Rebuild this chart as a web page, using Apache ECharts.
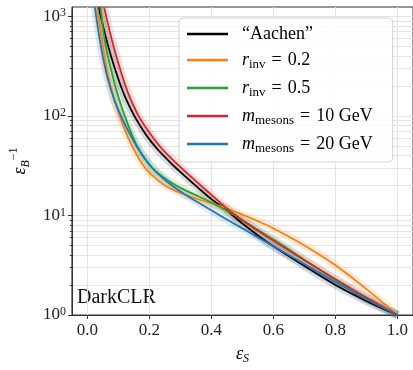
<!DOCTYPE html>
<html>
<head>
<meta charset="utf-8">
<script src="https://cdn.jsdelivr.net/npm/echarts@6/dist/echarts.min.js"></script>
<style>
  html, body { margin: 0; padding: 0; background: #fff; }
  #chart { width: 413px; height: 370px; }
</style>
</head>
<body>
<div id="chart"></div>
<script>
// signal efficiency vs inverse background efficiency
const aachenEps = [0.036, 0.055, 0.077, 0.105, 0.125, 0.153, 0.19, 0.226, 0.27, 0.311, 0.36, 0.401, 0.45, 0.5, 0.55, 0.6, 0.7, 0.8, 0.9, 1.0]
const aachenInvB = [1240, 698, 390, 210, 146.6, 97.7, 63.8, 46.2, 33.4, 25.4, 18.6, 14.5, 11.2, 8.3, 6.3, 4.9, 3.1, 2.0, 1.38, 1]

const rinv02Eps = [0.032, 0.04, 0.052, 0.065, 0.086, 0.105, 0.125, 0.145, 0.17, 0.2, 0.25, 0.305, 0.36, 0.433, 0.5, 0.56, 0.6, 0.7, 0.8, 0.9, 1.0]
const rinv02InvB = [1240, 794, 457, 269, 148, 97.7, 67.6, 49, 35.5, 26.9, 20, 16.6, 14.45, 12.3, 10.2, 8.5, 7.4, 5.0, 3.16, 1.82, 1]

const rinv05Eps = [0.042, 0.052, 0.063, 0.075, 0.088, 0.102, 0.124, 0.145, 0.167, 0.2, 0.226, 0.27, 0.305, 0.36, 0.433, 0.5, 0.55, 0.6, 0.7, 0.8, 0.9, 1.0]
const rinv05InvB = [1230, 692, 437, 302, 209, 148, 93.3, 63.1, 45.7, 32.4, 26.9, 21.4, 18.6, 15.5, 11.9, 9.0, 7.16, 5.75, 3.59, 2.26, 1.48, 1]

const m10Eps = [0.054, 0.075, 0.093, 0.122, 0.139, 0.167, 0.205, 0.242, 0.285, 0.327, 0.37, 0.411, 0.45, 0.5, 0.55, 0.6, 0.7, 0.8, 0.9, 1.0]
const m10InvB = [1230, 646, 398, 204, 148, 97.7, 64.6, 46.2, 33.9, 25.7, 19.5, 15.0, 11.7, 8.9, 7.0, 5.56, 3.55, 2.29, 1.5, 1]

const m20Eps = [0.024, 0.035, 0.048, 0.065, 0.088, 0.114, 0.135, 0.156, 0.178, 0.2, 0.22, 0.26, 0.305, 0.36, 0.433, 0.5, 0.56, 0.6, 0.7, 0.8, 0.9, 1.0]
const m20InvB = [1230, 724, 417, 240, 141, 91.2, 67.6, 51.3, 39.8, 32.4, 27.5, 21.4, 17.0, 13.3, 9.77, 7.41, 5.78, 4.9, 3.24, 2.14, 1.43, 1]

const seriesNames = ['aachen', 'rinv02', 'rinv05', 'm10', 'm20']
const seriesColors = ['#000000', '#ff7f0e', '#2ca02c', '#d62728', '#1f77b4']
const seriesEps = [aachenEps, rinv02Eps, rinv05Eps, m10Eps, m20Eps]
const seriesInvB = [aachenInvB, rinv02InvB, rinv05InvB, m10InvB, m20InvB]

const xTicks = [0, 0.2, 0.4, 0.6, 0.8, 1.0]
const yMajorTicks = [1, 10, 100, 1000]
const yMinorTicks = [1, 2, 3, 4, 5, 6, 7, 8, 9, 10, 20, 30, 40, 50, 60, 70, 80, 90,
  100, 200, 300, 400, 500, 600, 700, 800, 900, 1000]

const legendLabels = {
  aachen: '{t|\u201cAachen\u201d}',
  rinv02: '{it|r}{sub|inv}{t|\u2004=\u20040.2}',
  rinv05: '{it|r}{sub|inv}{t|\u2004=\u20040.5}',
  m10: '{it|m}{sub|mesons}{t|\u2004=\u200410 GeV}',
  m20: '{it|m}{sub|mesons}{t|\u2004=\u200420 GeV}'
}

const serif = 'Liberation Serif'
const chart = echarts.init(document.getElementById('chart'))

const zip = (xs, ys) => xs.map((x, i) => [x, ys[i]])

// pale wide line under each curve stands in for the uncertainty band
const bands = seriesNames.map((name, i) => ({
  name: name + '_band',
  type: 'line',
  data: zip(seriesEps[i], seriesInvB[i]),
  smooth: 0.3,
  symbol: 'none',
  silent: true,
  z: 1,
  lineStyle: { color: seriesColors[i], width: 8, opacity: 0.15 }
}))

const lines = seriesNames.map((name, i) => ({
  name: name,
  type: 'line',
  data: zip(seriesEps[i], seriesInvB[i]),
  smooth: 0.3,
  symbol: 'none',
  z: 3,
  color: seriesColors[i],
  lineStyle: { color: seriesColors[i], width: 1.8 }
}))

chart.setOption({
  animation: false,
  grid: {
    left: 69, top: 7, width: 344, height: 313,
    show: true, borderColor: '#333', borderWidth: 1
  },
  legend: {
    data: seriesNames,
    orient: 'vertical',
    left: 179, top: 18,
    padding: [7, 20, 7, 8],
    itemWidth: 41, itemHeight: 14, itemGap: 8,
    icon: 'path://M0,0H41V2.5H0Z',
    backgroundColor: 'rgba(255,255,255,0.85)',
    borderColor: '#d0d0d0', borderWidth: 1, borderRadius: 4,
    formatter: name => legendLabels[name],
    textStyle: {
      fontFamily: serif,
      padding: [0, 0, 0, 9],
      rich: {
        t: { fontFamily: serif, fontSize: 18, color: '#000', lineHeight: 22 },
        it: { fontFamily: serif, fontSize: 18, fontStyle: 'italic', color: '#000', lineHeight: 22 },
        sub: { fontFamily: serif, fontSize: 13, color: '#000', verticalAlign: 'bottom', lineHeight: 13 }
      }
    }
  },
  xAxis: {
    type: 'value',
    min: -0.05, max: 1.05,
    name: '{i|\u03b5}{sub|S}',
    nameLocation: 'middle', nameGap: 28,
    nameTextStyle: {
      rich: {
        i: { fontFamily: serif, fontSize: 18, fontStyle: 'italic', color: '#000', lineHeight: 22 },
        sub: { fontFamily: serif, fontSize: 12, fontStyle: 'italic', color: '#000', verticalAlign: 'bottom', lineHeight: 12 }
      }
    },
    axisLine: { show: true, onZero: false, lineStyle: { color: '#333' } },
    axisTick: { customValues: xTicks, length: 4, lineStyle: { color: '#333' } },
    axisLabel: {
      customValues: xTicks,
      formatter: v => v.toFixed(1),
      fontFamily: serif, fontSize: 17, color: '#222', margin: 7
    },
    splitLine: { show: true, lineStyle: { color: '#e4e4e4', width: 1 } }
  },
  yAxis: [{
    type: 'log',
    min: 1, max: 1240,
    position: 'left',
    name: '{i|\u03b5}{sub|B}{sup|\u22121}',
    nameLocation: 'middle', nameGap: 34, nameRotate: 90,
    nameTextStyle: {
      rich: {
        i: { fontFamily: serif, fontSize: 18, fontStyle: 'italic', color: '#000', lineHeight: 24 },
        sub: { fontFamily: serif, fontSize: 12, fontStyle: 'italic', color: '#000', verticalAlign: 'bottom', lineHeight: 12 },
        sup: { fontFamily: serif, fontSize: 12, color: '#000', verticalAlign: 'top', lineHeight: 12 }
      }
    },
    axisLine: { show: true, onZero: false, lineStyle: { color: '#333' } },
    axisTick: { customValues: yMajorTicks, length: 4, lineStyle: { color: '#333' } },
    axisLabel: {
      customValues: yMajorTicks,
      formatter: v => '{b|10}{e|' + Math.round(Math.log10(v)) + '}',
      margin: 6,
      rich: {
        b: { fontFamily: serif, fontSize: 17, color: '#222', lineHeight: 18 },
        e: { fontFamily: serif, fontSize: 12, color: '#222', verticalAlign: 'top', lineHeight: 12 }
      }
    },
    splitLine: { show: false }
  }, {
    type: 'log',
    min: 1, max: 1240,
    position: 'left',
    axisLine: { show: false, onZero: false },
    axisTick: { customValues: yMinorTicks, length: 2, lineStyle: { color: '#333' } },
    axisLabel: { show: false },
    splitLine: { show: true, lineStyle: { color: '#e4e4e4', width: 1 } }
  }],
  graphic: [{
    type: 'text',
    left: 77, top: 288,
    style: { text: 'DarkCLR', fontFamily: serif, fontSize: 20, fill: '#111' }
  }],
  series: bands.concat(lines)
})
</script>
</body>
</html>
